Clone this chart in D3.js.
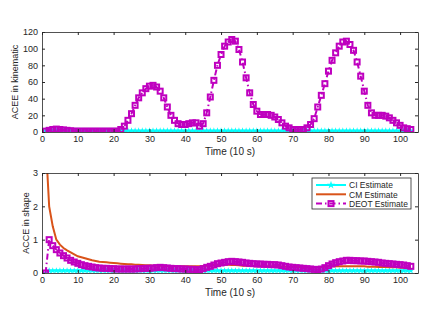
<!DOCTYPE html>
<html>
<head>
<meta charset="utf-8">
<script src="https://cdn.jsdelivr.net/npm/d3@7"></script>
<style>
  body { margin: 0; background: #fff; }
  svg { display: block; font-family: "Liberation Sans", Arial, sans-serif; }
  .tick text { font-size: 9px; fill: #262626; }
  .tick line, .domain { stroke: #262626; }
</style>
</head>
<body>
<svg width="443" height="318"></svg>
<script>
// time index 1..103 (x values)
const time = d3.range(1, 104);

// top plot: ACEE in kinematic
const topDEOT = [1, 2, 3, 3.5, 3, 2.5, 2, 1.5, 1, 1, 1, 1, 1, 1, 1, 1, 1, 1, 1, 1,
  1, 3, 7, 14, 22, 32, 41, 47, 52, 55, 56, 54, 49, 41, 30, 20, 14, 10, 9, 9,
  10, 11, 11, 7, 10, 23, 42, 62, 80, 93, 103, 108, 111, 109, 99, 84, 65, 47, 33, 25,
  21, 21, 21, 20, 18, 15, 11, 7, 5, 3, 3, 3, 3, 5, 9, 16, 30, 44, 58, 73,
  86, 95, 103, 108, 109, 105, 98, 84, 67, 49, 32, 23, 20, 20, 20, 19, 17, 14, 11, 8,
  5, 4, 3];
const topCI = time.map(() => 1.5);
const topCM = time.map(() => 0.5);

// bottom plot: ACCE in shape
const botCM = [4, 2.0, 1.4, 1.0, 0.85, 0.75, 0.68, 0.62, 0.56, 0.5, 0.47, 0.44, 0.41, 0.38, 0.36, 0.34, 0.33, 0.32, 0.31, 0.3,
  0.29, 0.28, 0.27, 0.26, 0.26, 0.25, 0.25, 0.24, 0.23, 0.23, 0.22, 0.22, 0.22, 0.21, 0.21, 0.2, 0.2, 0.2, 0.2, 0.2,
  0.2, 0.2, 0.2, 0.2, 0.21, 0.22, 0.23, 0.24, 0.25, 0.25, 0.25, 0.25, 0.24, 0.24, 0.23, 0.22, 0.22, 0.21, 0.21, 0.2,
  0.2, 0.2, 0.2, 0.2, 0.2, 0.19, 0.19, 0.19, 0.18, 0.18, 0.18, 0.18, 0.17, 0.17, 0.17, 0.17, 0.17, 0.18, 0.19, 0.2,
  0.2, 0.2, 0.2, 0.2, 0.2, 0.2, 0.2, 0.2, 0.2, 0.2, 0.19, 0.19, 0.19, 0.18, 0.18, 0.18, 0.17, 0.17, 0.17, 0.16,
  0.16, 0.16, 0.15];
const botDEOT = [0, 1.0, 0.82, 0.7, 0.6, 0.52, 0.45, 0.38, 0.33, 0.29, 0.25, 0.22, 0.2, 0.18, 0.16, 0.15, 0.14, 0.14, 0.13, 0.13,
  0.12, 0.12, 0.12, 0.12, 0.12, 0.12, 0.13, 0.13, 0.14, 0.14, 0.15, 0.16, 0.17, 0.16, 0.15, 0.14, 0.13, 0.13, 0.12, 0.12,
  0.11, 0.11, 0.1, 0.1, 0.13, 0.17, 0.2, 0.24, 0.28, 0.3, 0.32, 0.34, 0.35, 0.34, 0.33, 0.32, 0.3, 0.29, 0.28, 0.27,
  0.27, 0.26, 0.26, 0.25, 0.25, 0.24, 0.22, 0.2, 0.18, 0.17, 0.16, 0.15, 0.14, 0.13, 0.12, 0.11, 0.1, 0.12, 0.16, 0.22,
  0.27, 0.31, 0.34, 0.36, 0.38, 0.38, 0.37, 0.37, 0.36, 0.36, 0.35, 0.34, 0.33, 0.32, 0.3, 0.29, 0.28, 0.27, 0.26, 0.25,
  0.24, 0.22, 0.2];
const botCI = time.map((t) => t === 1 ? 0 : 0.07);

const xTicks = d3.range(0, 101, 10);
const topYTicks = [0, 20, 40, 60, 80, 100, 120];
const botYTicks = [0, 1, 2, 3];
const legendNames = ['CI Estimate', 'CM Estimate', 'DEOT Estimate'];

const cCI = '#00ffff', cCM = '#d95319', cDEOT = '#bf00bf';

const svg = d3.select('svg');
const left = 42, right = 418;

function drawPanel(top, bottom, yMax, yTicks, ylabel, ylabelX, series) {
  const x = d3.scaleLinear().domain([0, 105]).range([left, right]);
  const y = d3.scaleLinear().domain([0, yMax]).range([bottom, top]);
  const g = svg.append('g');

  const clipId = 'clip' + top;
  svg.append('clipPath').attr('id', clipId)
    .append('rect').attr('x', left).attr('y', top).attr('width', right - left).attr('height', bottom - top);

  const plot = g.append('g').attr('clip-path', 'url(#' + clipId + ')');
  const line = d3.line().x((d, i) => x(time[i])).y(d => y(d));

  series.forEach(s => {
    plot.append('path').datum(s.values)
      .attr('fill', 'none')
      .attr('stroke', s.color)
      .attr('stroke-width', s.width)
      .attr('stroke-dasharray', s.dash || null)
      .attr('d', line);
    if (s.marker === 'square') {
      plot.selectAll(null).data(s.values).enter().append('rect')
        .attr('x', (d, i) => x(time[i]) - 2.5)
        .attr('y', d => y(d) - 2.5)
        .attr('width', 5).attr('height', 5)
        .attr('fill', 'none')
        .attr('stroke', s.color)
        .attr('stroke-width', 2);
    } else if (s.marker === 'star') {
      plot.selectAll(null).data(s.values).enter().append('path')
        .attr('transform', (d, i) => 'translate(' + x(time[i]) + ',' + y(d) + ')')
        .attr('d', d3.symbol(d3.symbolStar, 14)())
        .attr('fill', s.color);
    }
  });

  g.append('g').attr('transform', 'translate(0,' + bottom + ')')
    .call(d3.axisBottom(x).tickValues(xTicks).tickSizeInner(-3).tickSizeOuter(0).tickPadding(4));
  g.append('g').attr('transform', 'translate(0,' + top + ')')
    .call(d3.axisTop(x).tickValues(xTicks).tickSizeInner(-3).tickSizeOuter(0).tickFormat(''));
  g.append('g').attr('transform', 'translate(' + left + ',0)')
    .call(d3.axisLeft(y).tickValues(yTicks).tickFormat(d3.format('d')).tickSizeInner(-3).tickSizeOuter(0).tickPadding(4));
  g.append('g').attr('transform', 'translate(' + right + ',0)')
    .call(d3.axisRight(y).tickValues(yTicks).tickSizeInner(-3).tickSizeOuter(0).tickFormat(''));
  g.selectAll('.domain').attr('stroke-width', 0.8);

  g.append('text')
    .attr('x', (left + right) / 2).attr('y', bottom + 23)
    .attr('text-anchor', 'middle').attr('font-size', 10).attr('fill', '#262626')
    .text('Time (10 s)');
  g.append('text')
    .attr('transform', 'translate(' + ylabelX + ',' + (top + bottom) / 2 + ') rotate(-90)')
    .attr('text-anchor', 'middle').attr('font-size', 9).attr('fill', '#262626')
    .text(ylabel);
  return { x, y };
}

drawPanel(32, 132, 120, topYTicks, 'ACEE in kinematic', 18, [
  { values: topCM, color: cCM, width: 2 },
  { values: topCI, color: cCI, width: 2, marker: 'star' },
  { values: topDEOT, color: cDEOT, width: 2, dash: '6,3,1.5,3', marker: 'square' }
]);

drawPanel(173, 273, 3, botYTicks, 'ACCE in shape', 28.5, [
  { values: botCI, color: cCI, width: 2, marker: 'star' },
  { values: botCM, color: cCM, width: 2 },
  { values: botDEOT, color: cDEOT, width: 2, dash: '6,3,1.5,3', marker: 'square' }
]);

// legend
const lg = svg.append('g').attr('transform', 'translate(312,178)');
lg.append('rect').attr('width', 99).attr('height', 31)
  .attr('fill', '#fff').attr('stroke', '#262626').attr('stroke-width', 0.8);
const styles = [
  { color: cCI, marker: 'star' },
  { color: cCM },
  { color: cDEOT, dash: '6,3,1.5,3', marker: 'square' }
];
legendNames.forEach((name, i) => {
  const yy = 7 + i * 9.3;
  const st = styles[i];
  lg.append('line').attr('x1', 4).attr('x2', 34).attr('y1', yy).attr('y2', yy)
    .attr('stroke', st.color).attr('stroke-width', 2)
    .attr('stroke-dasharray', st.dash || null);
  if (st.marker === 'star') {
    lg.append('path').attr('transform', 'translate(19,' + yy + ')')
      .attr('d', d3.symbol(d3.symbolStar, 20)()).attr('fill', st.color);
  } else if (st.marker === 'square') {
    lg.append('rect').attr('x', 16.5).attr('y', yy - 2.5).attr('width', 5).attr('height', 5)
      .attr('fill', 'none').attr('stroke', st.color).attr('stroke-width', 2);
  }
  lg.append('text').attr('x', 37).attr('y', yy + 3.3)
    .attr('font-size', 8.5).attr('fill', '#262626').text(name);
});
</script>
</body>
</html>
